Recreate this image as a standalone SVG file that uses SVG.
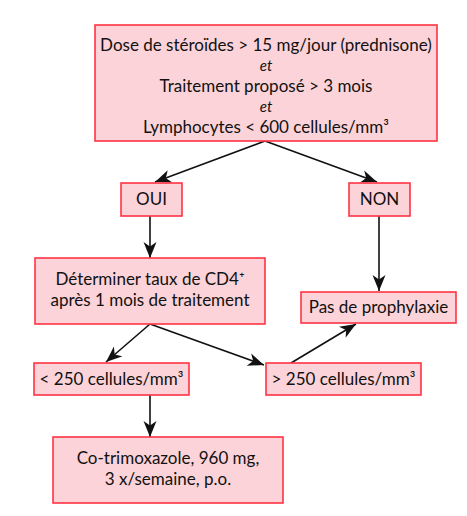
<svg xmlns="http://www.w3.org/2000/svg" width="467" height="516" viewBox="0 0 467 516">
<defs>
<style>
.box{fill:#fcd3d8;stroke:#ff3344;stroke-width:1.6}
.t{font-family:Lato,"Open Sans","Liberation Sans",sans-serif;font-size:17px;fill:#111;text-anchor:middle}
.i{font-style:italic;font-size:15px}
.c{stroke:#111;stroke-width:1.6;fill:none}
</style>
<marker id="ah" markerUnits="userSpaceOnUse" markerWidth="17" markerHeight="14" refX="16" refY="7" orient="auto">
<path d="M0,0.5 L16,7 L0,13.5 L4.5,7 z" fill="#111"/>
</marker>
</defs>
<rect width="467" height="516" fill="#fff"/>
<g id="connectors">
<line class="c" x1="265" y1="141" x2="155" y2="182" marker-end="url(#ah)"/>
<line class="c" x1="265" y1="141" x2="377" y2="182" marker-end="url(#ah)"/>
<line class="c" x1="150" y1="216" x2="150" y2="258" marker-end="url(#ah)"/>
<line class="c" x1="379" y1="216" x2="379" y2="291" marker-end="url(#ah)"/>
<line class="c" x1="150" y1="324" x2="106" y2="362" marker-end="url(#ah)"/>
<line class="c" x1="150" y1="324" x2="264" y2="365" marker-end="url(#ah)"/>
<line class="c" x1="291" y1="363" x2="356" y2="324" marker-end="url(#ah)"/>
<line class="c" x1="150" y1="395" x2="150" y2="437" marker-end="url(#ah)"/>
</g>
<g id="n-criteria">
<rect class="box" x="95" y="25" width="342" height="116"/>
<text class="t" x="266" y="51">Dose de stéroïdes &gt; 15 mg/jour (prednisone)</text>
<text class="t i" x="266" y="71">et</text>
<text class="t" x="266" y="92">Traitement proposé &gt; 3 mois</text>
<text class="t i" x="266" y="112">et</text>
<text class="t" x="266" y="133">Lymphocytes &lt; 600 cellules/mm³</text>
</g>
<g id="n-oui">
<rect class="box" x="121" y="183" width="61" height="33"/>
<text class="t" x="151.5" y="205">OUI</text>
</g>
<g id="n-non">
<rect class="box" x="349" y="183" width="61" height="33"/>
<text class="t" x="379.5" y="205">NON</text>
</g>
<g id="n-cd4">
<rect class="box" x="35" y="258" width="230" height="66"/>
<text class="t" x="150" y="285">Déterminer taux de CD4⁺</text>
<text class="t" x="150" y="306">après 1 mois de traitement</text>
</g>
<g id="n-pas">
<rect class="box" x="301" y="292" width="155" height="31"/>
<text class="t" x="378.5" y="313">Pas de prophylaxie</text>
</g>
<g id="n-lt250">
<rect class="box" x="34" y="363" width="155" height="32"/>
<text class="t" x="111.5" y="385">&lt; 250 cellules/mm³</text>
</g>
<g id="n-gt250">
<rect class="box" x="266" y="363" width="155" height="32"/>
<text class="t" x="343.5" y="385">&gt; 250 cellules/mm³</text>
</g>
<g id="n-cotri">
<rect class="box" x="53" y="437" width="230" height="66"/>
<text class="t" x="168" y="464">Co-trimoxazole, 960 mg,</text>
<text class="t" x="168" y="485">3 x/semaine, p.o.</text>
</g>
</svg>
